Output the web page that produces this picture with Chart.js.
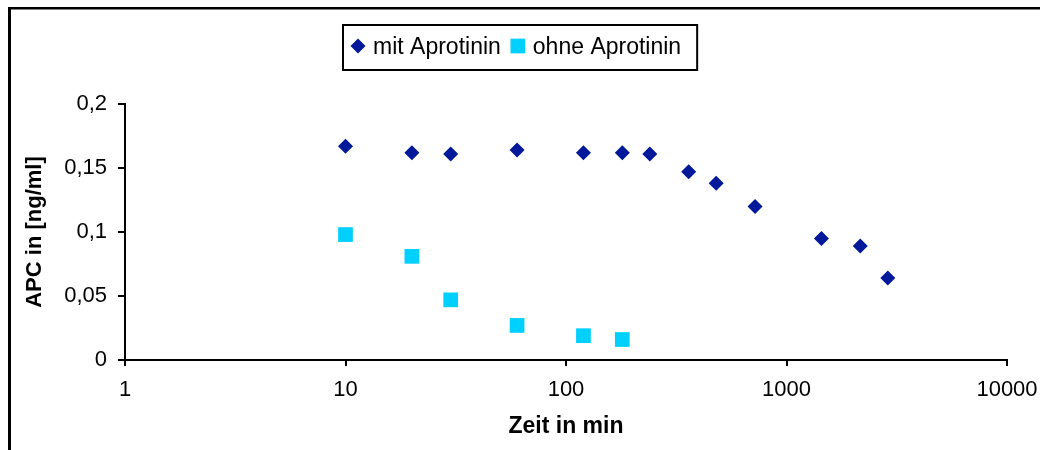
<!DOCTYPE html>
<html>
<head>
<meta charset="utf-8">
<script src="https://cdn.jsdelivr.net/npm/chart.js@4/dist/chart.umd.min.js"></script>
<style>
  html, body { margin: 0; padding: 0; background: #fff; }
  #wrap { width: 1040px; height: 450px; position: relative; }
</style>
</head>
<body>
<div id="wrap"><canvas id="c" width="1040" height="450"></canvas></div>
<script>
// Zeitpunkte (min) und APC-Konzentrationen (ng/ml)
const seriesNames = ['mit Aprotinin', 'ohne Aprotinin'];
const zeitMit  = [10, 20, 30, 60, 120, 180, 240, 360, 480, 720, 1440, 2160, 2880];
const apcMit   = [0.167, 0.162, 0.161, 0.164, 0.162, 0.162, 0.161, 0.147, 0.138, 0.120, 0.095, 0.089, 0.064];
const zeitOhne = [10, 20, 30, 60, 120, 180];
const apcOhne  = [0.098, 0.081, 0.047, 0.027, 0.019, 0.016];
const xTicks = [1, 10, 100, 1000, 10000];
const yTicks = [0, 0.05, 0.1, 0.15, 0.2];

const FONT_FAMILY = "'Liberation Sans', Arial, sans-serif";
const toPoints = (xs, ys) => xs.map((x, i) => ({ x: x, y: ys[i] }));

// Rahmen links/oben und Legendenkasten
const framePlugin = {
  id: 'frameAndLegend',
  afterDraw(chart) {
    const ctx = chart.ctx;
    ctx.save();
    ctx.fillStyle = '#000';
    ctx.fillRect(8, 7, 3, chart.height - 7);
    ctx.fillRect(8, 7, chart.width - 8, 2.5);

    // Legende
    ctx.font = '23px ' + FONT_FAMILY;
    ctx.textBaseline = 'alphabetic';
    const ds = chart.data.datasets;
    const w = ds.map(d => ctx.measureText(d.label).width);
    const padL = 8, sym = 14, gapT = 8, gapItem = 10, padR = 16;
    const total = padL + (sym + gapT + w[0]) + gapItem + (sym + gapT + w[1]) + padR;
    const left = Math.round(chart.width / 2 - total / 2);
    const top = 25, h = 45, cy = 46;
    ctx.lineWidth = 2;
    ctx.strokeStyle = '#000';
    ctx.strokeRect(left, top, total, h);
    let x = left + padL;
    ds.forEach((d, i) => {
      const opts = { pointStyle: d.pointStyle, radius: d.pointRadius, rotation: 0, borderWidth: 0 };
      ctx.fillStyle = d.backgroundColor;
      if (Chart.helpers && Chart.helpers.drawPoint) {
        Chart.helpers.drawPoint(ctx, opts, x + sym / 2, cy);
      }
      x += sym + gapT;
      ctx.fillStyle = '#000';
      ctx.fillText(d.label, x, 54);
      x += w[i] + gapItem;
    });
    ctx.restore();
  }
};

new Chart(document.getElementById('c'), {
  type: 'scatter',
  data: {
    datasets: [
      {
        label: seriesNames[0],
        data: toPoints(zeitMit, apcMit),
        pointStyle: 'rectRot',
        pointRadius: 7.5,
        borderWidth: 0,
        backgroundColor: '#00189a',
        borderColor: '#00189a'
      },
      {
        label: seriesNames[1],
        data: toPoints(zeitOhne, apcOhne),
        pointStyle: 'rect',
        pointRadius: 10.4,
        borderWidth: 0,
        backgroundColor: '#00d0ff',
        borderColor: '#00d0ff'
      }
    ]
  },
  options: {
    responsive: false,
    animation: false,
    devicePixelRatio: 1,
    layout: { padding: { top: 104, left: 0, right: 33, bottom: 0 } },
    plugins: {
      legend: { display: false },
      tooltip: { enabled: false }
    },
    scales: {
      x: {
        type: 'logarithmic',
        position: 'bottom',
        min: 1,
        max: 10000,
        afterBuildTicks: s => { s.ticks = xTicks.map(v => ({ value: v, major: true })); },
        afterFit: s => { s.height = 90; s.paddingLeft = 0; s.paddingRight = 0; },
        ticks: {
          autoSkip: false,
          maxRotation: 0,
          padding: 11,
          color: '#000',
          font: { family: FONT_FAMILY, size: 22 },
          callback: v => String(v)
        },
        grid: { drawOnChartArea: false, drawTicks: true, tickLength: 6, color: '#000', lineWidth: 2 },
        border: { color: '#000', width: 2 },
        title: {
          display: true,
          text: 'Zeit in min',
          color: '#000',
          font: { family: FONT_FAMILY, size: 23, weight: 'bold' },
          padding: { top: 0, bottom: 10 }
        }
      },
      y: {
        min: 0,
        max: 0.2,
        afterBuildTicks: s => { s.ticks = yTicks.map(v => ({ value: v })); },
        afterFit: s => { s.width = 125; },
        ticks: {
          padding: 11,
          color: '#000',
          font: { family: FONT_FAMILY, size: 22 },
          callback: v => String(v).replace('.', ',')
        },
        grid: { drawOnChartArea: false, drawTicks: true, tickLength: 7, color: '#000', lineWidth: 2 },
        border: { color: '#000', width: 2 },
        title: {
          display: true,
          text: 'APC in [ng/ml]',
          color: '#000',
          font: { family: FONT_FAMILY, size: 22, weight: 'bold' },
          padding: { top: 22, bottom: 0 }
        }
      }
    }
  },
  plugins: [framePlugin]
});
</script>
</body>
</html>
